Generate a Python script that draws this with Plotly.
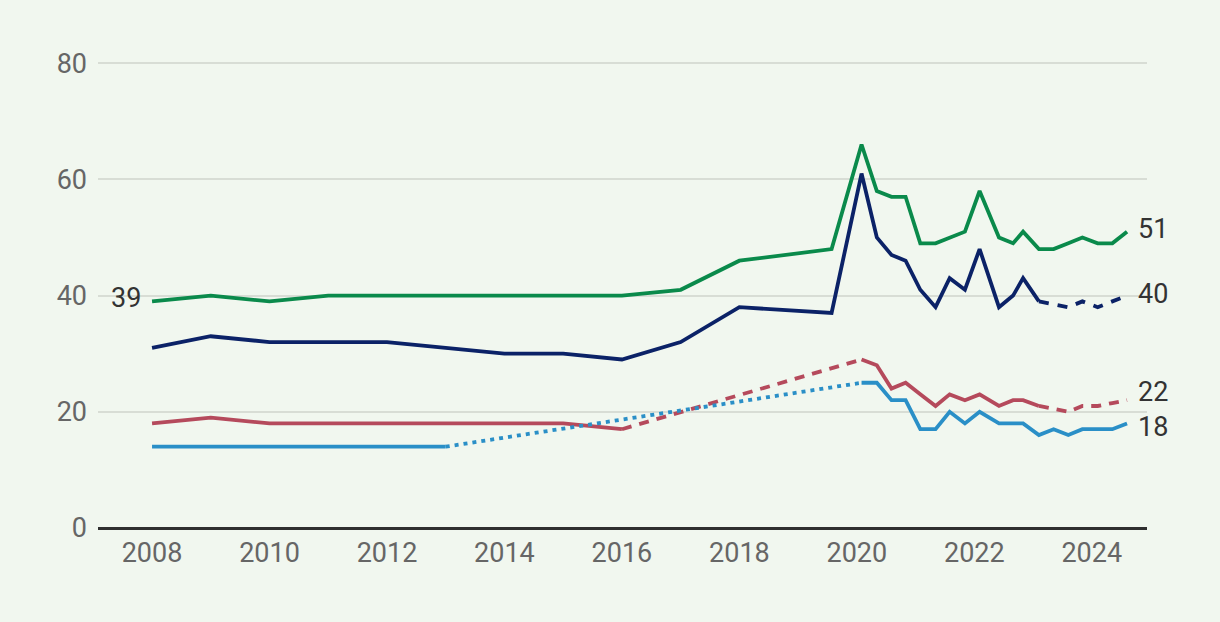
import plotly.graph_objects as go

# Annual survey years (2008-2018) and later survey points (decimal years)
years_annual = [2008, 2009, 2010, 2011, 2012, 2013, 2014, 2015, 2016, 2017, 2018]
years_recent = [2019.57, 2020.08, 2020.34, 2020.59, 2020.83, 2021.08, 2021.34, 2021.58,
                2021.84, 2022.09, 2022.42, 2022.66, 2022.83, 2023.10, 2023.35, 2023.60,
                2023.84, 2024.10, 2024.35, 2024.60]

green_annual = [39, 40, 39, 40, 40, 40, 40, 40, 40, 41, 46]
green_recent = [48, 66, 58, 57, 57, 49, 49, 50, 51, 58, 50, 49, 51, 48, 48, 49, 50, 49, 49, 51]

navy_annual = [31, 33, 32, 32, 32, 31, 30, 30, 29, 32, 38]
navy_recent = [37, 61, 50, 47, 46, 41, 38, 43, 41, 48, 38, 40, 43, 39, 38.5, 38, 39, 38, 39, 40]

red_years = [2008, 2009, 2010, 2011, 2012, 2013, 2014, 2015, 2016]
red_early = [18, 19, 18, 18, 18, 18, 18, 18, 17]
red_recent_years = years_recent[1:]
red_recent = [29, 28, 24, 25, 23, 21, 23, 22, 23, 21, 22, 22, 21, 20.5, 20, 21, 21, 21.5, 22]

blue_years = [2008, 2009, 2010, 2011, 2012, 2013]
blue_early = [14, 14, 14, 14, 14, 14]
blue_recent_years = years_recent[1:]
blue_recent = [25, 25, 22, 22, 17, 17, 20, 18, 20, 18, 18, 18, 16, 17, 16, 17, 17, 17, 18]

tick_years = [2008, 2010, 2012, 2014, 2016, 2018, 2020, 2022, 2024]
tick_values_y = [0, 20, 40, 60, 80]

GREEN = "#0a8a4b"
NAVY = "#0b2267"
RED = "#b54a5c"
BLUE = "#2a8fc7"
LW = 3.8

fig = go.Figure()

def add(x, y, color, dash="solid"):
    fig.add_trace(go.Scatter(x=x, y=y, mode="lines",
                             line=dict(color=color, width=LW, dash=dash),
                             hoverinfo="skip", showlegend=False))

# Green: all solid
add(years_annual + years_recent, green_annual + green_recent, GREEN)

# Navy: solid until early 2023, then dashed
navy_x = years_annual + years_recent
navy_y = navy_annual + navy_recent
split = navy_x.index(2023.10)
add(navy_x[:split + 1], navy_y[:split + 1], NAVY)
add(navy_x[split:], navy_y[split:], NAVY, "10px,9px")

# Red: solid to 2016, dashed gap to 2020, solid, then dashed from 2023
add(red_years, red_early, RED)
add([red_years[-1], red_recent_years[0]], [red_early[-1], red_recent[0]], RED, "10px,8px")
rs = red_recent_years.index(2023.10)
add(red_recent_years[:rs + 1], red_recent[:rs + 1], RED)
add(red_recent_years[rs:], red_recent[rs:], RED, "10px,8px")

# Blue: solid to 2013, dotted gap to 2020, then solid
add(blue_years, blue_early, BLUE)
add([blue_years[-1], blue_recent_years[0]], [blue_early[-1], blue_recent[0]], BLUE, "4px,5px")
add(blue_recent_years, blue_recent, BLUE)

FONT = "Roboto"
LABEL_COLOR = "#333333"
TICK_COLOR = "#666666"
FS = 27

# End labels
end_labels = [
    (years_recent[-1], green_recent[-1], "51", 3),
    (years_recent[-1], navy_recent[-1], "40", 2),
    (red_recent_years[-1], red_recent[-1], "22", 8),
    (blue_recent_years[-1], blue_recent[-1], "18", -4),
]
for x, y, t, dy in end_labels:
    fig.add_annotation(x=x, y=y, text=t, showarrow=False, xanchor="left",
                       yanchor="middle", xshift=9, yshift=dy,
                       font=dict(family=FONT, size=FS, color=LABEL_COLOR))
fig.add_annotation(x=years_annual[0], y=green_annual[0], text=str(green_annual[0]),
                   showarrow=False, xanchor="right", yanchor="middle", xshift=-9, yshift=3,
                   font=dict(family=FONT, size=FS, color=LABEL_COLOR))

fig.update_layout(
    width=1220, height=622,
    paper_bgcolor="#f1f7ef", plot_bgcolor="#f1f7ef",
    margin=dict(l=98, r=73, t=62, b=94),
    font=dict(family=FONT, size=FS, color=TICK_COLOR),
    xaxis=dict(range=[2007.08, 2024.94], tickmode="array",
               tickvals=tick_years,
               ticktext=[str(t) for t in tick_years],
               showgrid=False, zeroline=False, showline=False, ticks="",
               ticklabelstandoff=6,
               tickfont=dict(family=FONT, size=FS, color=TICK_COLOR)),
    yaxis=dict(range=[0, 80.2], tickmode="array", tickvals=tick_values_y,
               showgrid=True, gridcolor="#d8ddd5", gridwidth=2,
               zeroline=True, zerolinecolor="#2f2f2f", zerolinewidth=2.5,
               showline=False, ticks="", ticklabelstandoff=10,
               tickfont=dict(family=FONT, size=FS, color=TICK_COLOR)),
)

fig.write_html("out.html", config={"displayModeBar": False},
               post_script="document.body.style.margin='0';document.body.style.background='#f1f7ef';")
